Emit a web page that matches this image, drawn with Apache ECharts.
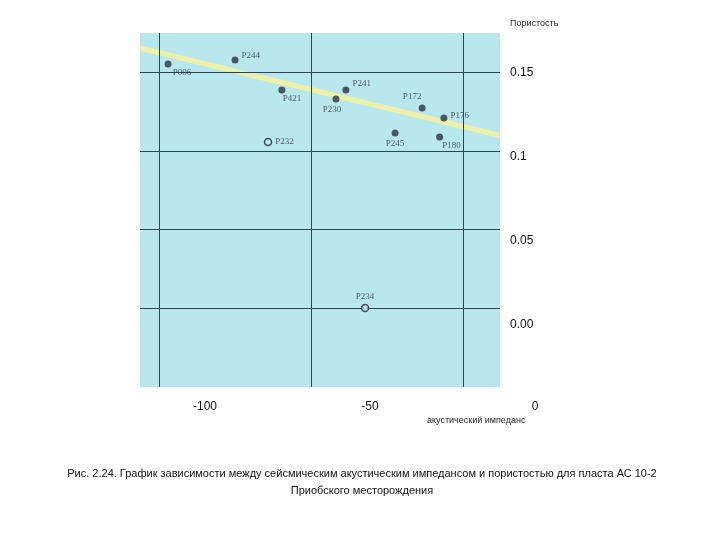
<!DOCTYPE html><html><head><meta charset="utf-8"><script src="https://cdn.jsdelivr.net/npm/echarts@6/dist/echarts.min.js"></script></head><body style="margin:0;background:#fff"><div id="c" style="width:720px;height:540px"></div><script>
const names=['P006','P244','P421','P241','P230','P172','P176','P245','P180','P232','P234'];
const xs=[-111.2,-90.9,-76.7,-57.3,-60.3,-34.2,-27.6,-42.4,-28.9,-80.9,-51.5];
const ys=[0.1554,0.1577,0.1399,0.1399,0.1345,0.1292,0.1232,0.1143,0.1119,0.1089,0.0101];
const hollow=[0,0,0,0,0,0,0,0,0,1,1];
const labelPos=['bottom','right','bottom','right','bottom','top','right','bottom','bottom','right','top'];
const trendX=[-119.7,-10.6];const trendY=[0.1649,0.1128];
const gridX=[-113.9,-67.9,-21.8];const gridY=[0.1506,0.1036,0.0571,0.0101];
const xMin=-119.7,xMax=-10.6,yMin=-0.0369,yMax=0.1738;
const offs={P006:[14,-2],P421:[10,-2],P230:[-4,0],P172:[-10,0],P245:[0,0],P180:[12,-2],P244:[0,-4],P241:[0,-6],P176:[0,-2]};
const pts=names.map((n,i)=>({value:[xs[i],ys[i]],name:n,
 itemStyle:hollow[i]?{color:'#b8e8ee',borderColor:'#223',borderWidth:1.5}:{color:'#2a3340'},
 label:{show:true,formatter:n,position:labelPos[i],offset:offs[n]||[0,0],distance:3,fontFamily:'Liberation Serif',fontSize:9,color:'#334'}}));
const gl=gridX.map(v=>[{coord:[v,yMin]},{coord:[v,yMax]}]).concat(gridY.map(v=>[{coord:[xMin,v]},{coord:[xMax,v]}]));
const c=echarts.init(document.getElementById('c'));
c.setOption({animation:false,
grid:[{left:140,top:33,width:360,height:354,backgroundColor:'#b8e8ee',show:true,borderWidth:0},
 {left:205,top:73,width:330,height:252},{left:140,top:73,width:360,height:252}],
xAxis:[{gridIndex:0,type:'value',min:xMin,max:xMax,show:false},
 {gridIndex:1,type:'value',min:-100,max:0,interval:50,axisLine:{show:false},axisTick:{show:false},splitLine:{show:false},position:'bottom',offset:68,axisLabel:{fontSize:12,color:'#111',fontFamily:'Liberation Sans'}},
 {gridIndex:2,type:'value',show:false}],
yAxis:[{gridIndex:0,type:'value',min:yMin,max:yMax,show:false},
 {gridIndex:1,type:'value',show:false,min:0,max:0.15},
 {gridIndex:2,type:'value',min:0,max:0.15,interval:0.05,position:'right',axisLine:{show:false},axisTick:{show:false},splitLine:{show:false},axisLabel:{margin:10,fontSize:12,color:'#111',fontFamily:'Liberation Sans',formatter:v=>v===0?'0.00':String(+v.toFixed(2))}}],
series:[
{type:'line',xAxisIndex:0,yAxisIndex:0,data:trendX.map((x,i)=>[x,trendY[i]]),symbol:'none',lineStyle:{color:'#eef0a8',width:5},
 markLine:{silent:true,symbol:'none',label:{show:false},lineStyle:{color:'#2d4150',type:'solid',width:1},data:gl}},
{type:'scatter',xAxisIndex:0,yAxisIndex:0,symbolSize:7,data:pts,z:5}
],
graphic:[
{type:'text',left:510,top:19,style:{text:'Пористость',fontSize:9,fill:'#222',fontFamily:'Liberation Sans'}},
{type:'text',left:427,top:416,style:{text:'акустический импеданс',fontSize:9,fill:'#222',fontFamily:'Liberation Sans'}},
{type:'text',x:362,y:465,style:{text:'Рис. 2.24. График зависимости между сейсмическим акустическим импедансом и пористостью для пласта АС 10-2\nПриобского месторождения',textAlign:'center',align:'center',lineHeight:17,fontSize:11,fill:'#111',fontFamily:'Liberation Sans'}}
]});
</script></body></html>
